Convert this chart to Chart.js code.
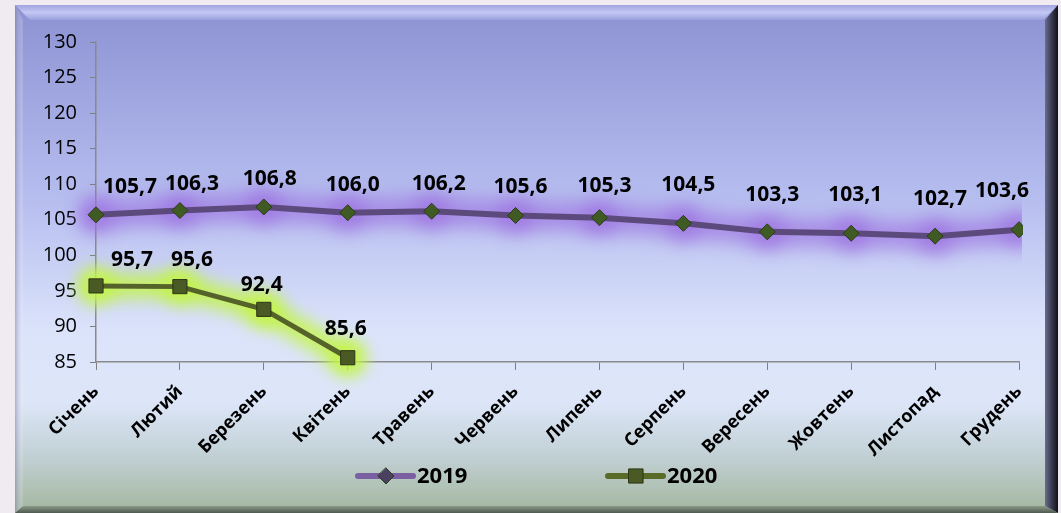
<!DOCTYPE html>
<html>
<head>
<meta charset="utf-8">
<script src="https://cdn.jsdelivr.net/npm/chart.js@4/dist/chart.umd.min.js"></script>
<style>
html,body{margin:0;padding:0;background:#efebf0;}
#wrap{width:1061px;height:513px;position:relative;}
canvas{display:block;}
</style>
</head>
<body>
<div id="wrap"><canvas id="c" width="1061" height="513"></canvas></div>
<script>
const categories = ['Січень','Лютий','Березень','Квітень','Травень','Червень','Липень','Серпень','Вересень','Жовтень','Листопад','Грудень'];
const values2019 = [105.7,106.3,106.8,106.0,106.2,105.6,105.3,104.5,103.3,103.1,102.7,103.6];
const values2020 = [95.7,95.6,92.4,85.6];
const seriesNames = ['2019','2020'];
const yMin = 85, yMax = 130, yStep = 5;

const FONT = '"Open Sans", "Noto Sans", sans-serif';
const fmt = v => v.toFixed(1).replace('.', ',');

const bgPlugin = {
  id: 'bg',
  beforeDraw(chart) {
    const ctx = chart.ctx;
    const W = chart.width, H = chart.height;
    ctx.save();
    ctx.fillStyle = '#efebf0';
    ctx.fillRect(0, 0, W, H);
    const L = 15, T = 5, R = 1058, B = 513;
    const g = ctx.createLinearGradient(0, T, 0, B);
    g.addColorStop(0, '#8c92d2');
    g.addColorStop(0.38, '#b6bdef');
    g.addColorStop(0.64, '#dbe3fb');
    g.addColorStop(0.78, '#dde6f8');
    g.addColorStop(0.88, '#c4d2d8');
    g.addColorStop(1, '#a3b69e');
    ctx.fillStyle = g;
    ctx.fillRect(L, T, R - L, B - T);
    const bt = 15;
    ctx.beginPath();
    ctx.moveTo(L, T); ctx.lineTo(R, T); ctx.lineTo(R - bt, T + bt); ctx.lineTo(L + bt, T + bt); ctx.closePath();
    const gt = ctx.createLinearGradient(0, T, 0, T + bt);
    gt.addColorStop(0, '#a0a5df'); gt.addColorStop(0.5, '#c3c7f4'); gt.addColorStop(1, '#9aa0dc');
    ctx.fillStyle = gt; ctx.fill();
    const bl = 8;
    ctx.beginPath();
    ctx.moveTo(L, T); ctx.lineTo(L + bl, T + bt); ctx.lineTo(L + bl, B - 6); ctx.lineTo(L, B); ctx.closePath();
    const gl = ctx.createLinearGradient(L, 0, L + bl, 0);
    gl.addColorStop(0, 'rgba(130,130,170,0.55)'); gl.addColorStop(1, 'rgba(255,255,255,0.15)');
    ctx.fillStyle = gl; ctx.fill();
    const br = 13;
    ctx.beginPath();
    ctx.moveTo(R, T); ctx.lineTo(R, B); ctx.lineTo(R - br, B - 7); ctx.lineTo(R - br, T + bt); ctx.closePath();
    const gr = ctx.createLinearGradient(R - br, 0, R, 0);
    gr.addColorStop(0, '#6a6c8c'); gr.addColorStop(0.5, '#3a3b52'); gr.addColorStop(1, '#111118');
    ctx.fillStyle = gr; ctx.fill();
    const bb = 7;
    ctx.beginPath();
    ctx.moveTo(L, B); ctx.lineTo(L + bl, B - bb); ctx.lineTo(R - br, B - bb); ctx.lineTo(R, B); ctx.closePath();
    const gb = ctx.createLinearGradient(0, B - bb, 0, B);
    gb.addColorStop(0, '#8a9a88'); gb.addColorStop(1, '#4f5a50');
    ctx.fillStyle = gb; ctx.fill();
    ctx.restore();
  }
};

const glowPlugin = {
  id: 'glow',
  beforeDatasetDraw(chart, args, opts) {
    const ctx = chart.ctx;
    const meta = chart.getDatasetMeta(args.index);
    const pts = meta.data;
    if (!pts.length) return;
    const col = opts.colors[args.index];
    const area = chart.chartArea;
    ctx.save();
    ctx.beginPath();
    ctx.rect(area.left - 60, area.top - 60, area.right - area.left + 63, area.bottom - area.top + 120);
    ctx.clip();
    ctx.filter = 'blur(' + opts.blur[args.index] + 'px)';
    ctx.strokeStyle = col;
    ctx.fillStyle = col;
    ctx.lineWidth = opts.width[args.index];
    ctx.lineJoin = 'round';
    ctx.lineCap = 'round';
    ctx.beginPath();
    pts.forEach((p, i) => { if (i === 0) ctx.moveTo(p.x, p.y); else ctx.lineTo(p.x, p.y); });
    ctx.stroke();
    pts.forEach(p => { ctx.beginPath(); ctx.arc(p.x, p.y, opts.radius[args.index], 0, Math.PI * 2); ctx.fill(); });
    ctx.restore();
  }
};

const labelPlugin = {
  id: 'vlabels',
  afterDatasetsDraw(chart, args, opts) {
    const ctx = chart.ctx;
    ctx.save();
    ctx.font = 'bold 21px ' + FONT;
    ctx.fillStyle = '#000';
    ctx.textAlign = 'center';
    ctx.textBaseline = 'middle';
    chart.data.datasets.forEach((ds, di) => {
      const meta = chart.getDatasetMeta(di);
      const dxs = opts.dx[di], dys = opts.dy[di];
      meta.data.forEach((pt, i) => {
        const v = ds.data[i];
        if (v == null) return;
        const dx = dxs[i] !== undefined ? dxs[i] : dxs[dxs.length - 1];
        const dy = dys[i] !== undefined ? dys[i] : dys[dys.length - 1];
        ctx.fillText(fmt(v), pt.x + dx, pt.y + dy);
      });
    });
    ctx.restore();
  }
};

function drawMarker(ctx, style, x, y, r, fill, stroke) {
  ctx.save();
  ctx.fillStyle = fill; ctx.strokeStyle = stroke; ctx.lineWidth = 1;
  ctx.beginPath();
  if (style === 'rectRot') {
    ctx.moveTo(x, y - r); ctx.lineTo(x + r, y); ctx.lineTo(x, y + r); ctx.lineTo(x - r, y); ctx.closePath();
  } else {
    const s = r * Math.SQRT1_2;
    ctx.rect(x - s, y - s, 2 * s, 2 * s);
  }
  ctx.fill(); ctx.stroke();
  ctx.restore();
}

const legendPlugin = {
  id: 'customLegend',
  afterDraw(chart, args, opts) {
    const ctx = chart.ctx;
    const y = 476;
    ctx.save();
    chart.data.datasets.forEach((ds, i) => {
      const x0 = opts.x[i];
      ctx.strokeStyle = opts.lineColors[i];
      ctx.lineWidth = 6;
      ctx.lineCap = 'round';
      ctx.beginPath(); ctx.moveTo(x0, y); ctx.lineTo(x0 + 55, y); ctx.stroke();
      drawMarker(ctx, ds.pointStyle, x0 + 28, y, ds.pointRadius, opts.markerColors[i], ds.pointBorderColor);
      ctx.font = 'bold 22px ' + FONT;
      ctx.fillStyle = '#000';
      ctx.textAlign = 'left';
      ctx.textBaseline = 'middle';
      ctx.fillText(ds.label, x0 + 59, y + 1);
    });
    ctx.restore();
  }
};

new Chart(document.getElementById('c'), {
  type: 'line',
  data: {
    labels: categories,
    datasets: [
      {
        label: seriesNames[0],
        data: values2019,
        borderColor: '#5c4a7c',
        borderWidth: 6,
        pointStyle: 'rectRot',
        pointRadius: 8,
        pointHoverRadius: 8,
        pointBackgroundColor: '#3f5a22',
        pointBorderColor: '#2b3b18',
        pointBorderWidth: 1,
        tension: 0,
        clip: {left: 40, right: 4, top: 40, bottom: 40}
      },
      {
        label: seriesNames[1],
        data: values2020,
        borderColor: '#55622a',
        borderWidth: 5,
        pointStyle: 'rect',
        pointRadius: 10,
        pointHoverRadius: 10,
        pointBackgroundColor: '#4a5a24',
        pointBorderColor: '#2c3616',
        pointBorderWidth: 1,
        tension: 0,
        clip: {left: 40, right: 4, top: 40, bottom: 40}
      }
    ]
  },
  options: {
    responsive: false,
    animation: false,
    events: [],
    layout: { padding: { left: 20, right: 42, top: 42, bottom: 51 } },
    plugins: {
      legend: { display: false },
      tooltip: { enabled: false },
      glow: {
        colors: ['rgba(155,110,225,0.65)', 'rgba(195,245,70,0.85)'],
        width: [28, 24],
        radius: [18, 19],
        blur: [9, 8]
      },
      vlabels: {
        dx: [[34, 12, 6, 5, 7, 5, 5, 5, 5, 4, 5, -17], [36, 12, -2, -2]],
        dy: [[-28, -27, -28, -28, -27, -28, -32, -38, -37, -38, -37, -39], [-26, -27, -24, -29]]
      },
      customLegend: {
        x: [358, 608],
        lineColors: ['#7a5fa2', '#5a6b28'],
        markerColors: ['#4a4060', '#4a5a24']
      }
    },
    scales: {
      x: {
        grid: { display: true, drawOnChartArea: false, drawTicks: true, tickLength: 8, color: '#7f7f7f', lineWidth: 1 },
        border: { display: true, color: '#8a8a8a', width: 1.5 },
        ticks: {
          autoSkip: false,
          minRotation: 45, maxRotation: 45,
          padding: 11,
          color: '#000',
          font: { family: FONT, size: 18, weight: 'bold' }
        },
        afterFit(s) { s.height = 100; }
      },
      y: {
        min: yMin, max: yMax,
        grid: { display: true, drawOnChartArea: false, drawTicks: true, tickLength: 6, color: '#7f7f7f', lineWidth: 1 },
        border: { display: true, color: '#8a8a8a', width: 1.5 },
        ticks: {
          stepSize: yStep,
          padding: 13,
          color: '#000',
          font: { family: FONT, size: 20 },
          callback: v => String(v)
        },
        afterFit(s) { s.width = 76; }
      }
    }
  },
  plugins: [bgPlugin, glowPlugin, labelPlugin, legendPlugin]
});
</script>
</body>
</html>
